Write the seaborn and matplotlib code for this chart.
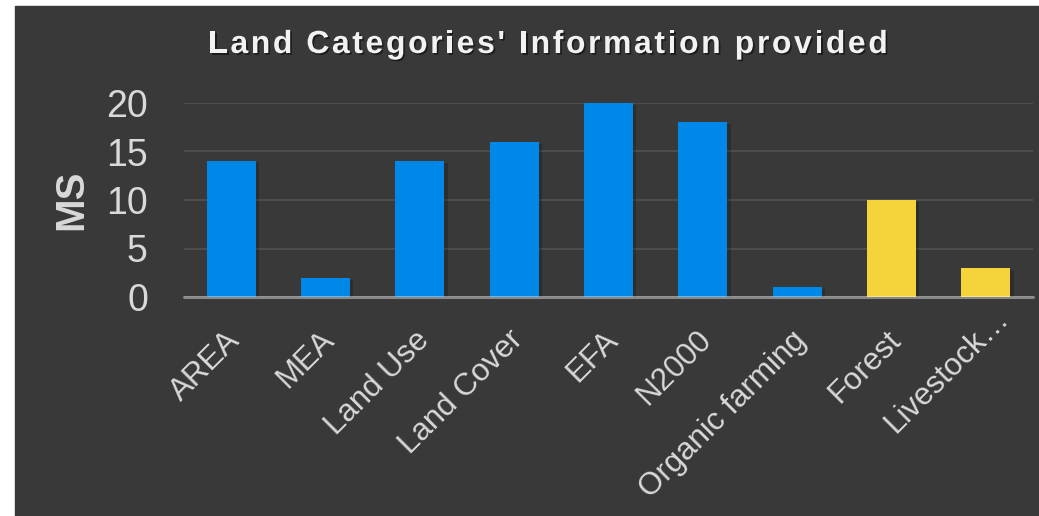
import matplotlib
matplotlib.use('Agg')
import matplotlib.pyplot as plt
import matplotlib.patheffects as pe
from matplotlib.patches import Rectangle
from matplotlib.transforms import ScaledTranslation
from matplotlib.font_manager import FontProperties
import seaborn as sns

# data
categories = ['AREA', 'MEA', 'Land Use', 'Land Cover', 'EFA', 'N2000',
              'Organic farming', 'Forest', 'Livestock…']
ms_counts = [14, 2, 14, 16, 20, 18, 1, 10, 3]
highlighted = ['Forest', 'Livestock…']
y_ticks = [0, 5, 10, 15, 20]
title = "Land Categories' Information provided"

# colours
bg = '#393939'
blue = '#0088e8'
yellow = '#f4d43a'
txt = '#d9d9d9'
palette = {c: (yellow if c in highlighted else blue) for c in categories}

sns.set_style('white')
plt.rcParams['font.family'] = ['Liberation Sans', 'DejaVu Sans']

W, H = 1039, 516
fig = plt.figure(figsize=(W / 100, H / 100), dpi=100, facecolor='white')
fig.patches.append(Rectangle((15 / W, 0), 1, (H - 6) / H, transform=fig.transFigure,
                             color=bg, zorder=-10))

ax = fig.add_axes([184 / W, 1 - 297 / H, (1033 - 184) / W, (297 - 103) / H])
ax.set_facecolor('none')

sns.barplot(x=categories, y=ms_counts, hue=categories, palette=palette,
            legend=False, width=0.52, saturation=1, ax=ax, zorder=3, linewidth=0)
for bar in ax.patches:
    bar.set_edgecolor('none')
    bar.set_path_effects([pe.SimplePatchShadow(offset=(2.5, -1.5), shadow_rgbFace='black', alpha=0.2),
                          pe.Normal()])

ax.set_ylim(0, 20)
ax.set_xlim(-0.5, len(categories) - 0.5)
ax.set_yticks(y_ticks)
ax.yaxis.grid(True, color='#505050', lw=1.3, zorder=0)
ax.set_axisbelow(True)
for s in ax.spines.values():
    s.set_visible(False)
ax.axhline(0, color='white', alpha=0.4, lw=2.2, zorder=5, clip_on=False)

ax.tick_params(axis='y', pad=26, length=0, labelsize=27, labelcolor=txt)
ax.tick_params(axis='x', pad=0, length=0, labelsize=22.5, labelcolor=txt)
ax.set_xticks(range(len(categories)))
ax.set_xticklabels(categories, rotation=45, ha='right', va='top', rotation_mode='anchor')
for lab in ax.get_xticklabels():
    # the truncated last label sits a little higher in the original
    dx, dy = (8, -6) if lab.get_text() == 'Livestock…' else (-6, -28)
    lab.set_transform(lab.get_transform() + ScaledTranslation(dx / 100, dy / 100, fig.dpi_scale_trans))

ax.set_xlabel('')
ax.set_ylabel('MS', fontsize=29, fontweight='bold', color=txt)
ax.yaxis.set_label_coords(-0.111, 0.5)

# title with letter spacing
fig.canvas.draw()
r = fig.canvas.get_renderer()
fp = FontProperties(family='Liberation Sans', weight='bold', size=23)
w0 = r.get_text_width_height_descent('||', fp, ismath=False)[0]
spacing = 2.6
advs = [r.get_text_width_height_descent('|' + c + '|', fp, ismath=False)[0] - w0 + spacing
        for c in title]
x = 548 - (sum(advs) - spacing) / 2
for c, a in zip(title, advs):
    fig.text(x / W, 1 - 53 / H, c, fontproperties=fp, color='#f2f2f2',
             ha='left', va='baseline',
             path_effects=[pe.withSimplePatchShadow(offset=(1.2, -1.2), shadow_rgbFace='black', alpha=0.5)])
    x += a

fig.savefig('out.png', dpi=100, facecolor=fig.get_facecolor())
